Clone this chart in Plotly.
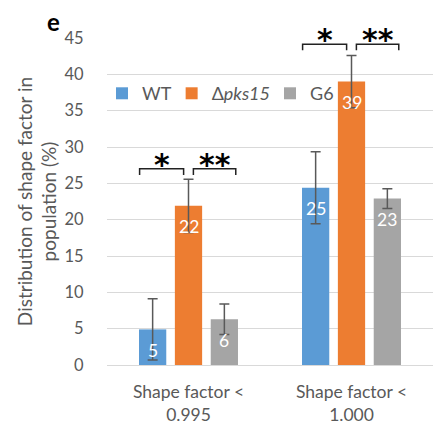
import plotly.graph_objects as go

categories = ["Shape factor <<br>0.995", "Shape factor <<br>1.000"]
series_names = ["WT", "Δ<i>pks15</i>", "G6"]
wt_values = [4.9, 24.4]
pks15_values = [21.9, 39.0]
g6_values = [6.3, 22.9]
wt_err = [4.2, 4.95]
pks15_err = [3.65, 3.6]
g6_err = [2.1, 1.35]
label_text = [["5", "25"], ["22", "39"], ["6", "23"]]
y_ticks = [0, 5, 10, 15, 20, 25, 30, 35, 40, 45]
bracket_levels = [27.0, 44.15]
star_labels = ["*", "**"]

colors = ["#5B9BD5", "#ED7D31", "#A5A5A5"]
FONT = "Lato"
GRAY = "#595959"

values = [wt_values, pks15_values, g6_values]
errs = [wt_err, pks15_err, g6_err]

fig = go.Figure()
for name, vals, err, col in zip(series_names, values, errs, colors):
    fig.add_trace(go.Bar(
        name=name, x=categories, y=vals, marker=dict(color=col, line=dict(width=0)),
        error_y=dict(type="data", array=err, visible=True, color=GRAY, thickness=1.5, width=5),
    ))

slot = (1 - 0.34) / 3
annotations = []
for j, (vals, labs) in enumerate(zip(values, label_text)):
    for i, (v, t) in enumerate(zip(vals, labs)):
        annotations.append(dict(x=i + (j - 1) * slot, y=v, xref="x", yref="y", text=t,
                                showarrow=False, yshift=-21, yanchor="middle",
                                font=dict(family=FONT, size=17.5, color="white")))

shapes = []
for i, lvl in enumerate(bracket_levels):
    for a, b in [(-0.3, -0.03), (0.03, 0.29)]:
        shapes.append(dict(type="path", xref="x", yref="y",
                           path=f"M {i + a},{lvl - 0.85} L {i + a},{lvl} L {i + b},{lvl} L {i + b},{lvl - 0.85}",
                           line=dict(color="#222222", width=1.5)))
    for s, cx in zip(star_labels, [-0.165, 0.165]):
        annotations.append(dict(x=i + cx, y=lvl, xref="x", yref="y", text=f"<b>{s}</b>", showarrow=False,
                                yanchor="bottom", yshift=-15,
                                font=dict(family="DejaVu Sans", size=30, color="black")))

annotations.append(dict(x=-0.163, y=1.049, xref="paper", yref="paper", text="<b>e</b>", showarrow=False,
                        xanchor="center", yanchor="middle",
                        font=dict(family=FONT, size=24, color="black")))

fig.update_layout(
    width=438, height=425,
    margin=dict(l=99, r=13, t=30, b=68, autoexpand=False),
    paper_bgcolor="white", plot_bgcolor="white",
    font=dict(family=FONT, size=16, color=GRAY),
    barmode="group", bargap=0.34, bargroupgap=0.24,
    showlegend=True,
    legend=dict(orientation="h", x=0, xanchor="left", y=0.83, yanchor="middle",
                font=dict(family=FONT, size=18, color=GRAY), bgcolor="rgba(0,0,0,0)",
                itemwidth=30, traceorder="normal", indentation=-5),
    annotations=annotations, shapes=shapes,
    yaxis=dict(range=[0, 45], tickvals=y_ticks, showgrid=True, gridcolor="#D9D9D9", gridwidth=1,
               zeroline=True, zerolinecolor="#D9D9D9", zerolinewidth=1,
               ticks="outside", ticklen=19, tickcolor="rgba(0,0,0,0)",
               tickfont=dict(family=FONT, size=16.5, color=GRAY),
               title=dict(text="Distribution of shape factor in<br>population (%)",
                          font=dict(family=FONT, size=19, color=GRAY), standoff=2)),
    xaxis=dict(type="category", tickfont=dict(family=FONT, size=17.5, color=GRAY), tickangle=0,
               ticks="outside", ticklen=11, tickcolor="rgba(0,0,0,0)", showline=False),
)

fig.write_html("out.html")
